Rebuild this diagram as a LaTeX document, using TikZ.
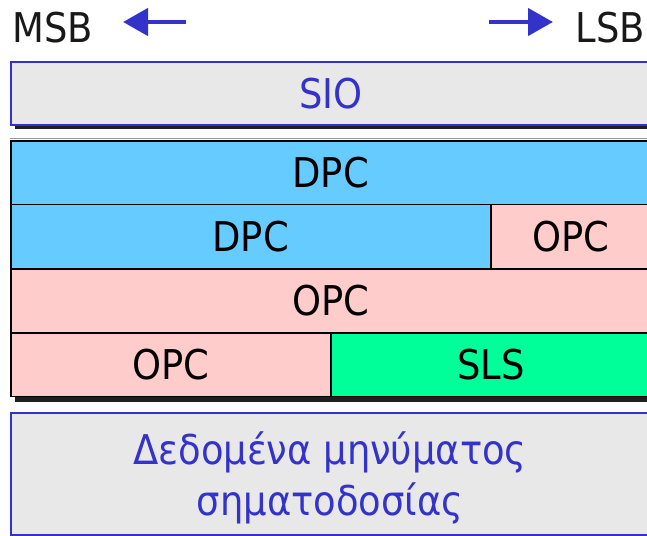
\documentclass[tikz,border=0pt]{standalone}
\usepackage{fontspec}
\setmainfont{DejaVu Sans Condensed}
\usetikzlibrary{arrows.meta}
\definecolor{ttblue}{HTML}{3333CC}
\definecolor{boxgray}{HTML}{E8E8E8}
\definecolor{dpcblue}{HTML}{66CCFF}
\definecolor{opcpink}{HTML}{FFCCCC}
\definecolor{slsgreen}{HTML}{00FF99}
\definecolor{rulegray}{HTML}{999999}
\tikzset{
  big/.style={font=\fontsize{41}{52}\selectfont},
  lbl/.style={big, text height=30pt, text depth=0pt, inner sep=0pt},
  cell/.style={lbl, draw=black, line width=1.5pt, anchor=north west, minimum height=#1},
  graybox/.style={lbl, draw=ttblue, fill=boxgray, line width=2pt, text=ttblue, anchor=north west},
  shadowbar/.style={fill=black!88},
  dirarrow/.style={draw=ttblue, line width=4.5pt, -{Triangle[length=25pt 0 0,width=27pt 0 0]}}
}
\begin{document}
\begin{tikzpicture}[x=1pt,y=-1pt]
\useasboundingbox (0,0) rectangle (647,535);
\clip (0,0) rectangle (647,535);
% top labels and arrows
\node[big, anchor=base west, inner sep=0pt, text=black!90] (msb) at (12,42) {MSB};
\node[big, anchor=base east, inner sep=0pt, text=black!90] (lsb) at (645,42) {LSB};
\coordinate (la) at (186,22);
\coordinate (lb) at (123,22);
\coordinate (ra) at (489,22);
\coordinate (rb) at (553,22);
\draw[dirarrow] (la) -- (lb);
\draw[dirarrow] (ra) -- (rb);
% SIO
\fill[shadowbar] (15,123) rectangle (652,129);
\node[graybox, minimum width=640pt, minimum height=63pt] (sio) at (10,61) {SIO};
\draw[rulegray, line width=1.5pt] (10,138.5) -- (652,138.5);
% main block
\fill[shadowbar] (15,395) rectangle (652,402);
\node[cell=63.5pt, fill=dpcblue, minimum width=640pt] (dpc1) at (10,140) {DPC};
\node[cell=64.5pt, fill=dpcblue, minimum width=480pt] (dpc2) at (10,203.5) {DPC};
\node[cell=64.5pt, fill=opcpink, minimum width=160pt] (opc1) at (490,203.5) {OPC};
\node[cell=64pt, fill=opcpink, minimum width=640pt] (opc2) at (10,268) {OPC};
\node[cell=63.5pt, fill=opcpink, minimum width=320pt] (opc3) at (10,332) {OPC};
\node[cell=63.5pt, fill=slsgreen, minimum width=320pt] (sls) at (330,332) {SLS};
% message box
\node[graybox, minimum width=640pt, minimum height=122pt] (msg) at (10,412) {};
\node[big, anchor=base, inner sep=0pt, text=ttblue] (msgl1) at (330,464) {Δεδομένα μηνύματος};
\node[big, anchor=base, inner sep=0pt, text=ttblue] (msgl2) at (330,515) {σηματοδοσίας};
\end{tikzpicture}
\end{document}
